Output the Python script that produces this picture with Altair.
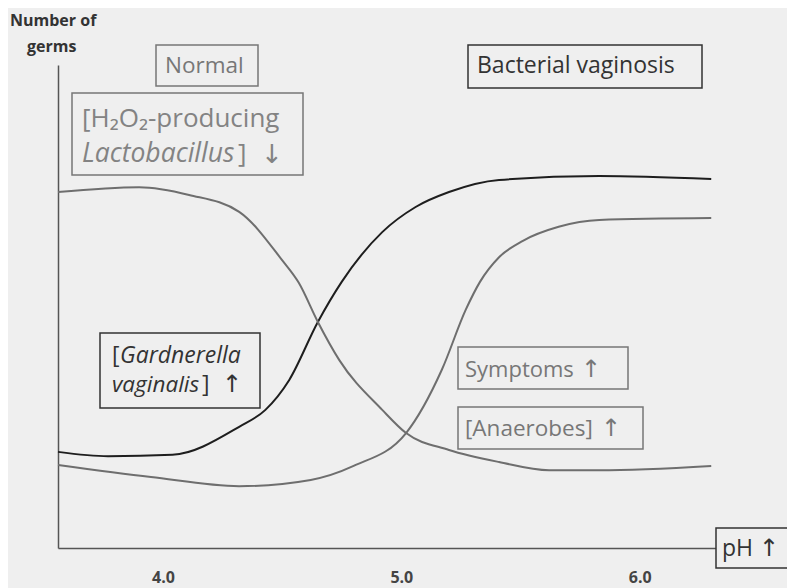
import altair as alt
import pandas as pd

# ---- data (arbitrary "number of germs" units 0-100) ----
series_names = ["Gardnerella", "Lactobacillus", "Anaerobes"]

ph_gardnerella = [3.56, 3.77, 4.04, 4.32, 4.43, 4.53, 4.65, 4.75, 4.92, 5.06, 5.20, 5.41, 5.83, 6.30]
val_gardnerella = [19.9, 19.0, 19.3, 25.1, 28.6, 34.8, 46.8, 55.1, 65.4, 70.6, 73.7, 76.2, 77.0, 76.4]

ph_lactobacillus = [3.56, 3.90, 4.11, 4.32, 4.50, 4.57, 4.65, 4.74, 4.92, 5.02, 5.20, 5.41, 5.62, 5.83, 6.30]
val_lactobacillus = [73.7, 74.7, 73.1, 69.6, 59.6, 54.9, 46.8, 38.9, 28.6, 23.8, 20.3, 17.8, 16.1, 16.1, 17.0]

ph_anaerobes = [3.56, 3.95, 4.32, 4.62, 4.80, 5.02, 5.17, 5.27, 5.33, 5.41, 5.51, 5.66, 5.83, 6.30]
val_anaerobes = [17.2, 14.7, 12.8, 14.1, 17.0, 23.8, 36.9, 49.3, 55.1, 60.2, 63.6, 66.5, 67.9, 68.3]

tick_values = [4.0, 5.0, 6.0]
x_domain = [3.56, 6.32]
y_domain = [0, 100]

rows = []
for name, xs, ys in zip(series_names,
                        [ph_gardnerella, ph_lactobacillus, ph_anaerobes],
                        [val_gardnerella, val_lactobacillus, val_anaerobes]):
    for xv, yv in zip(xs, ys):
        rows.append({"series": name, "ph": xv, "val": yv})
curves = pd.DataFrame(rows)

# ---- layout / style ----
W, H = 658, 483
BG = "#efefef"
DARK = "#333333"
GRAY = "#777777"
LGRAY = "#838383"
FONT = "Open Sans"

lines = alt.Chart(curves).mark_line(strokeWidth=2, interpolate="monotone").encode(
    x=alt.X("ph:Q", scale=alt.Scale(domain=x_domain, nice=False, zero=False),
            axis=alt.Axis(values=tick_values, format=".1f", ticks=False, grid=False,
                          domainColor="#555555", domainWidth=1.5, labelFont=FONT,
                          labelFontWeight="bold", labelFontSize=16, labelColor="#444444",
                          labelPadding=21, title=None)),
    y=alt.Y("val:Q", scale=alt.Scale(domain=y_domain, nice=False),
            axis=alt.Axis(ticks=False, labels=False, grid=False, domainColor="#555555",
                          domainWidth=1.5, title=None)),
    color=alt.Color("series:N", legend=None,
                    scale=alt.Scale(domain=series_names, range=["#1e1e1e", "#6e6e6e", "#6e6e6e"])),
)

boxes = pd.DataFrame([
    {"x0": 98, "x1": 200, "y0": -20, "y1": 21, "c": GRAY},
    {"x0": 14, "x1": 245, "y0": 28, "y1": 110, "c": GRAY},
    {"x0": 410, "x1": 644, "y0": -20, "y1": 23, "c": DARK},
    {"x0": 42, "x1": 202, "y0": 268, "y1": 343, "c": DARK},
    {"x0": 400, "x1": 570, "y0": 282, "y1": 324, "c": GRAY},
    {"x0": 400, "x1": 585, "y0": 342, "y1": 384, "c": GRAY},
    {"x0": 658, "x1": 745, "y0": 463, "y1": 503, "c": DARK},
])

box_layer = alt.Chart(boxes).mark_rect(fill=BG, strokeWidth=1.5).encode(
    x=alt.X("x0:Q", scale=None, axis=None),
    x2="x1:Q",
    y=alt.Y("y0:Q", scale=None, axis=None),
    y2="y1:Q",
    stroke=alt.Stroke("c:N", scale=None),
)

regular_texts = pd.DataFrame([
    {"t": "Normal", "x": 107, "y": 0.5, "c": GRAY, "s": 22.5},
    {"t": "Bacterial vaginosis", "x": 419, "y": 1, "c": DARK, "s": 23},
    {"t": "[H₂O₂-producing", "x": 24, "y": 54, "c": LGRAY, "s": 26},
    {"t": "]", "x": 180, "y": 89, "c": LGRAY, "s": 26},
    {"t": "[", "x": 54, "y": 291, "c": DARK, "s": 23},
    {"t": "]", "x": 144, "y": 320, "c": DARK, "s": 23},
    {"t": "Symptoms", "x": 407, "y": 305, "c": GRAY, "s": 22},
    {"t": "[Anaerobes]", "x": 407, "y": 364, "c": GRAY, "s": 22.5},
    {"t": "pH", "x": 664, "y": 484, "c": DARK, "s": 23},
])
italic_texts = pd.DataFrame([
    {"t": "Lactobacillus", "x": 24, "y": 89, "c": LGRAY, "s": 26.5},
    {"t": "Gardnerella", "x": 62, "y": 291, "c": DARK, "s": 23},
    {"t": "vaginalis", "x": 54, "y": 320, "c": DARK, "s": 22.5},
])
bold_texts = pd.DataFrame([
    {"t": "Number of", "x": -48, "y": -44, "c": DARK, "s": 16},
    {"t": "germs", "x": -31, "y": -18, "c": DARK, "s": 16},
])
arrow_texts = pd.DataFrame([
    {"t": "↓", "x": 214, "y": 90, "c": LGRAY, "s": 26},
    {"t": "↑", "x": 174, "y": 320, "c": DARK, "s": 24},
    {"t": "↑", "x": 533, "y": 305, "c": GRAY, "s": 24},
    {"t": "↑", "x": 553, "y": 364, "c": GRAY, "s": 24},
    {"t": "↑", "x": 711, "y": 484, "c": DARK, "s": 24},
])


def text_layer(df, align="left", font=FONT, **kw):
    return alt.Chart(df).mark_text(align=align, baseline="middle", font=font, **kw).encode(
        x=alt.X("x:Q", scale=None, axis=None),
        y=alt.Y("y:Q", scale=None, axis=None),
        text="t:N",
        color=alt.Color("c:N", scale=None),
        size=alt.Size("s:Q", scale=None),
    )


chart = alt.layer(
    lines,
    box_layer,
    text_layer(regular_texts),
    text_layer(italic_texts, fontStyle="italic"),
    text_layer(bold_texts, fontWeight="bold"),
    text_layer(arrow_texts, align="center", font="DejaVu Sans"),
).resolve_scale(x="independent", y="independent").properties(
    width=W,
    height=H,
    autosize=alt.AutoSizeParams(type="none"),
    padding={"left": 50, "top": 57, "right": 71, "bottom": 40},
    background=BG,
).configure_view(stroke=None)

chart.save("out.html", embed_options={"renderer": "svg", "actions": False})
